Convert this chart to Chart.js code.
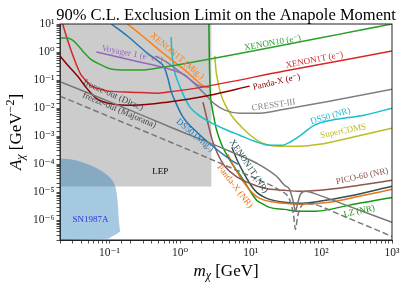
<!DOCTYPE html>
<html><head><meta charset="utf-8">
<script src="https://cdn.jsdelivr.net/npm/chart.js@4.4.1/dist/chart.umd.min.js"></script>
<style>html,body{margin:0;padding:0;background:#fff;}#wrap{width:407px;height:288px;}</style>
</head><body><div id="wrap"><canvas id="c" width="407" height="288"></canvas></div>
<script>
// ---- data: [m_chi (GeV), anapole (GeV^-2)] ----
const XENON10_E = [[0.02,3.16],[0.0248,3.16],[0.0301,2.68],[0.0366,1.64],[0.043,1.0],[0.054,0.562],[0.0678,0.405],[0.1067,0.247],[0.168,0.228],[0.2825,0.228],[0.49,0.268],[0.747,0.316],[1000,10]];
const XENON1T_E = [[0.0218,10],[0.0248,3.43],[0.0292,1.0],[0.0343,0.343],[0.0391,0.164],[0.0474,0.092],[0.0557,0.061],[0.0747,0.0477],[0.0968,0.0405],[0.204,0.0373],[0.49,0.0343],[0.851,0.0405],[2.04,0.0562],[30.1,0.21],[1000,1.086]];
const PANDAX_E = [[0.02,0.72],[0.0256,0.343],[0.0354,0.139],[0.049,0.0477],[0.0678,0.021],[0.1138,0.0139],[0.218,0.0128],[0.656,0.0164],[2.65,0.0291],[9.68,0.061]];
const VOYAGER = [[0.0656,1.0],[0.2323,0.477],[0.771,0.228],[1.176,0.151],[1.524,0.0848],[1.913,0.061],[2.65,0.0562]];
const XENON1T_MIG = [[0.18,10],[0.2825,4.05],[0.49,1.28],[0.771,0.518],[1.176,0.228],[1.626,0.1086],[2.04,0.0663],[2.48,0.0562]];
const DS50_MIG = [[0.1067,10],[0.1794,3.73],[0.343,0.921],[0.49,0.477],[0.596,0.291],[0.678,0.1086],[0.747,0.0405],[0.851,0.0178],[1.102,0.00477],[1.735,0.00139],[2.92,0.00044],[5.06,0.000151],[6.56,0.0001]];
const SUPERCDMS = [[3.11,0.72],[3.21,0.247],[3.43,0.092],[3.78,0.0316],[4.45,0.0118],[5.58,0.00477],[7.47,0.0021],[10.3,0.001],[14.8,0.000562],[25.6,0.00044],[49,0.00044],[93.7,0.000518],[240,0.00085],[1000,0.00193]];
const DS50_NR = [[0.747,3.43],[0.771,0.848],[0.823,0.247],[0.937,0.0848],[1.102,0.0316],[1.383,0.01086],[1.913,0.00518],[2.65,0.00316],[4.3,0.00178],[7.0,0.001086],[11.4,0.00066],[18.5,0.000477],[27.3,0.000477],[37.8,0.00066],[49,0.001],[79.7,0.00247],[138,0.00373],[403,0.00562],[1000,0.01]];
const CRESST3 = [[0.445,0.72],[0.615,0.477],[1.0,0.193],[1.475,0.092],[1.913,0.0477],[2.4,0.0268],[3.11,0.0139],[4.3,0.0085],[7.0,0.0066],[13.4,0.0066],[30.1,0.0092],[130,0.0178],[1000,0.0477]];
const PICO60 = [[2.11,0.0164],[2.32,0.0061],[2.56,0.0021],[2.92,0.00061],[3.43,0.000228],[4.3,8.5e-5],[5.95,4.05e-5],[9.68,2.1e-5],[15.7,1.39e-5],[30.1,1.18e-5],[49,1.086e-5],[130,1.28e-5],[343,1.78e-5],[1000,2.68e-5]];
const XENON1T_NR = [[5.4,0.000405],[6.35,0.000151],[7.47,6.6e-5],[8.78,3.16e-5],[10.3,1.64e-5],[12.2,1e-5],[14.8,7.2e-6],[18.5,5.62e-6],[30.1,4.4e-6],[49,4.05e-6],[93.7,4.77e-6],[240,7.2e-6],[1000,1.64e-5]];
const PANDAX_NR = [[4.74,0.000228],[5.58,1e-4],[7.0,3.73e-5],[8.78,1.64e-5],[10.7,9.2e-6],[13.4,6.1e-6],[18.5,4.77e-6],[30.1,4.05e-6],[49,3.73e-6],[130,4.4e-6],[343,7.2e-6],[1000,1.28e-5]];
const LZ_NR = [[2.56,10],[2.6,0.562],[2.69,0.0291],[2.82,0.0118],[3.01,0.00477],[3.21,0.0021],[3.54,0.00092],[4.03,0.000405],[4.9,0.000164],[6.15,6.6e-5],[7.47,3.43e-5],[8.78,1.78e-5],[10.3,9.2e-6],[12.2,5.18e-6],[15.2,3.73e-6],[18.5,2.91e-6],[30.1,2.47e-6],[49,2.1e-6],[79.7,2.1e-6],[130,2.47e-6],[240,3.43e-6],[1000,6.6e-6]];
const FREEZE_DIRAC = [[0.02,0.0884],[0.1429,0.0118],[0.797,0.00193],[5.06,0.000291],[12.2,0.0001086],[23.2,3.73e-5],[30.1,1.78e-5],[35.4,1.28e-5],[40.3,4.4e-6],[43,2.1e-6],[45.9,3.73e-6],[50.6,8.5e-6],[59.5,1.086e-5],[93.7,7.8e-6],[248,3.16e-6],[1000,8.5e-7]];
const FREEZE_MAJORANA = [[0.02,0.0268],[0.1429,0.00343],[0.797,0.000562],[5.06,7.8e-5],[13.4,2.68e-5],[25.6,1.18e-5],[35.4,5.62e-6],[40.3,1.64e-6],[43,4.77e-7],[45.9,1.28e-6],[50.6,2.91e-6],[59.5,4.05e-6],[79.7,3.73e-6],[179,1.64e-6],[1000,2.68e-7]];
const LEP = [[0.02,1.6e-5],[2.8,1.6e-5]];
const SN1987A_UPPER = [[0.02,1.64e-4],[0.0332,1.39e-4],[0.054,9.2e-5],[0.0747,6.1e-5],[0.0937,4.05e-5],[0.1067,2.9e-5],[0.1175,1.93e-5],[0.1255,1.09e-5],[0.1318,3.7e-6],[0.136,1.09e-6],[0.1406,4.8e-7],[0.1429,4.1e-7]];
const SN1987A_LOWER = [[0.02,2e-7],[0.0968,2.2e-7],[0.110,2.7e-7],[0.1255,3.2e-7],[0.1429,4.1e-7]];

const X_MAJOR = [0.1, 1, 10, 100, 1000];
const X_LABELS = ['10⁻¹','10⁰','10¹','10²','10³'];
const Y_MAJOR = [1e-6,1e-5,1e-4,1e-3,1e-2,1e-1,1,10];
const Y_LABELS = ['10⁻⁶','10⁻⁵','10⁻⁴','10⁻³','10⁻²','10⁻¹','10⁰','10¹'];

// ---- styling / annotation placement ----
const SERIF = '"Liberation Serif", "DejaVu Serif", serif';
const pts = a => a.map(p => ({x:p[0], y:p[1]}));
function lineDS(data, color, opts={}) {
  return Object.assign({data: pts(data), showLine:true, borderColor: color, backgroundColor: color,
    borderWidth: 1.5, pointRadius: 0, pointHoverRadius: 0, fill: false,
    cubicInterpolationMode: 'monotone', order: 1}, opts);
}
const datasets = [
  {data: pts(LEP), showLine:true, borderWidth:0, borderColor:'rgba(0,0,0,0)', pointRadius:0,
   backgroundColor:'rgba(128,128,128,0.4)', fill:'end', order: 20},
  {data: pts(SN1987A_LOWER), showLine:true, borderWidth:0, borderColor:'rgba(0,0,0,0)', pointRadius:0, fill:false, order: 19},
  {data: pts(SN1987A_UPPER), showLine:true, borderWidth:0, borderColor:'rgba(0,0,0,0)', pointRadius:0,
   backgroundColor:'rgba(31,119,180,0.4)', fill:{target:1}, cubicInterpolationMode:'monotone', order: 18},
  lineDS(FREEZE_DIRAC, '#777777'),
  lineDS(FREEZE_MAJORANA, '#777777', {borderDash:[6,3]}),
  lineDS(XENON10_E, '#2ca02c'),
  lineDS(XENON1T_E, '#d62728'),
  lineDS(PANDAX_E, '#8b0000'),
  lineDS(VOYAGER, '#9467bd'),
  lineDS(XENON1T_MIG, '#ff7f0e'),
  lineDS(DS50_MIG, '#1f77b4'),
  lineDS(CRESST3, '#7f7f7f'),
  lineDS(DS50_NR, '#17becf'),
  lineDS(SUPERCDMS, '#bcbd22'),
  lineDS(PICO60, '#8c564b'),
  lineDS(PANDAX_NR, '#e8731a'),
  lineDS(XENON1T_NR, '#2f4f4f'),
  lineDS(LZ_NR, '#129a12'),
];

const annotations = [
  {text:'XENON10 (e⁻)', m:20.4, a:2.1, rot:-10, color:'#2ca02c'},
  {text:'XENON1T (e⁻)', m:79.7, a:0.518, rot:-11, color:'#d62728'},
  {text:'Panda-X (e⁻)', m:23.2, a:0.0848, rot:-13, color:'#8b0000'},
  {text:'CRESST-III', m:21.1, a:0.0128, rot:-8, color:'#7f7f7f'},
  {text:'DS50 (NR)', m:134, a:0.00518, rot:-16, color:'#17becf'},
  {text:'SuperCDMS', m:204, a:0.00151, rot:-11, color:'#bcbd22'},
  {text:'PICO-60 (NR)', m:378, a:3.73e-5, rot:-12, color:'#8c564b'},
  {text:'LZ (NR)', m:343, a:2.1e-6, rot:-12, color:'#129a12'},
  {text:'XENON1T (NR)', m:9.37, a:8.5e-5, rot:56, color:'#2f4f4f'},
  {text:'Panda-X (NR)', m:5.95, a:1.64e-5, rot:52, color:'#e8731a'},
  {text:'DS50 (Mig.)', m:1.626, a:0.001086, rot:40, color:'#1f77b4'},
  {text:'XENON1T (Mig.)', m:0.907, a:0.72, rot:40, color:'#ff7f0e'},
  {text:'Voyager 1 (e⁺e⁻)', m:0.211, a:0.848, rot:11, color:'#9467bd'},
  {text:'freeze-out (Dirac)', m:0.1138, a:0.029, rot:24, color:'#444444'},
  {text:'freeze-out (Majorana)', m:0.138, a:0.0084, rot:23, color:'#444444'},
  {text:'LEP', m:0.523, a:5.62e-5, rot:0, color:'#000000'},
  {text:'SN1987A', m:0.054, a:1.086e-6, rot:0, color:'#3030e0'},
];

function drawRich(ctx, parts, cx, baseline) {
  let w = 0;
  parts.forEach(p => { ctx.font = p.font; p.w = ctx.measureText(p.t).width; w += p.w; });
  let x = cx - w/2;
  ctx.textAlign = 'left'; ctx.textBaseline = 'alphabetic';
  parts.forEach(p => { ctx.font = p.font; ctx.fillText(p.t, x, baseline + (p.dy||0)); x += p.w; });
}

const decor = {
  id: 'decor',
  afterDatasetsDraw(chart) {
    const ctx = chart.ctx, xs = chart.scales.x, ys = chart.scales.y, ca = chart.chartArea;
    ctx.save();
    ctx.beginPath(); ctx.rect(ca.left, ca.top, ca.right-ca.left, ca.bottom-ca.top); ctx.clip();
    annotations.forEach(an => {
      const px = xs.getPixelForValue(an.m), py = ys.getPixelForValue(an.a);
      ctx.save(); ctx.translate(px, py); ctx.rotate(an.rot*Math.PI/180);
      ctx.font = '9px ' + SERIF; ctx.fillStyle = an.color;
      ctx.textAlign = 'center'; ctx.textBaseline = 'middle';
      ctx.fillText(an.text, 0, 0);
      ctx.restore();
    });
    ctx.restore();
  },
  afterDraw(chart) {
    const ctx = chart.ctx, ca = chart.chartArea;
    ctx.save();
    ctx.strokeStyle = '#222'; ctx.lineWidth = 1;
    ctx.strokeRect(ca.left, ca.top, ca.right-ca.left, ca.bottom-ca.top);
    ctx.fillStyle = '#000';
    ctx.font = '16.5px ' + SERIF; ctx.textAlign = 'center'; ctx.textBaseline = 'alphabetic';
    ctx.fillText('90% C.L. Exclusion Limit on the Anapole Moment', (ca.left+ca.right)/2, 19.5);
    drawRich(ctx, [
      {t:'m', font:'italic 17px '+SERIF},
      {t:'χ', font:'italic 12px '+SERIF, dy:3},
      {t:' [GeV]', font:'17px '+SERIF}
    ], (ca.left+ca.right)/2, 276);
    ctx.translate(15, (ca.top+ca.bottom)/2);
    ctx.rotate(-Math.PI/2);
    drawRich(ctx, [
      {t:'A', font:'italic 17px '+SERIF},
      {t:'χ', font:'italic 12px '+SERIF, dy:3},
      {t:' [GeV', font:'17px '+SERIF},
      {t:'−2', font:'12px '+SERIF, dy:-7},
      {t:']', font:'17px '+SERIF}
    ], 0, 6);
    ctx.restore();
  }
};

function labelFor(value, majors, labels) {
  const i = majors.findIndex(t => Math.abs(Math.log10(value) - Math.log10(t)) < 1e-6);
  return i >= 0 ? labels[i] : '';
}

new Chart(document.getElementById('c'), {
  type: 'scatter',
  data: { datasets },
  plugins: [decor],
  options: {
    responsive: false, animation: false, events: [],
    layout: { padding: { top: 24, right: 15, left: 0, bottom: 0 } },
    plugins: { legend: {display:false}, tooltip: {enabled:false}, title: {display:false} },
    scales: {
      x: {
        type: 'logarithmic', min: 0.02, max: 1000, position: 'bottom',
        afterFit: s => { s.height = 48; },
        grid: { drawOnChartArea: false, drawTicks: true, tickLength: 3.5, tickColor: '#222', tickWidth: 0.8 },
        border: { display: true, color: '#222' },
        ticks: { autoSkip: false, maxRotation: 0, padding: 3, color: '#222',
          font: { family: SERIF, size: 11.5 },
          callback: v => labelFor(v, X_MAJOR, X_LABELS) }
      },
      y: {
        type: 'logarithmic', min: 2e-7, max: 10, position: 'left',
        afterFit: s => { s.width = 60; },
        grid: { drawOnChartArea: false, drawTicks: true, tickLength: 3.5, tickColor: '#222', tickWidth: 0.8 },
        border: { display: true, color: '#222' },
        ticks: { autoSkip: false, padding: 2, color: '#222',
          font: { family: SERIF, size: 11.5 },
          callback: v => labelFor(v, Y_MAJOR, Y_LABELS) }
      }
    }
  }
});
</script></body></html>
